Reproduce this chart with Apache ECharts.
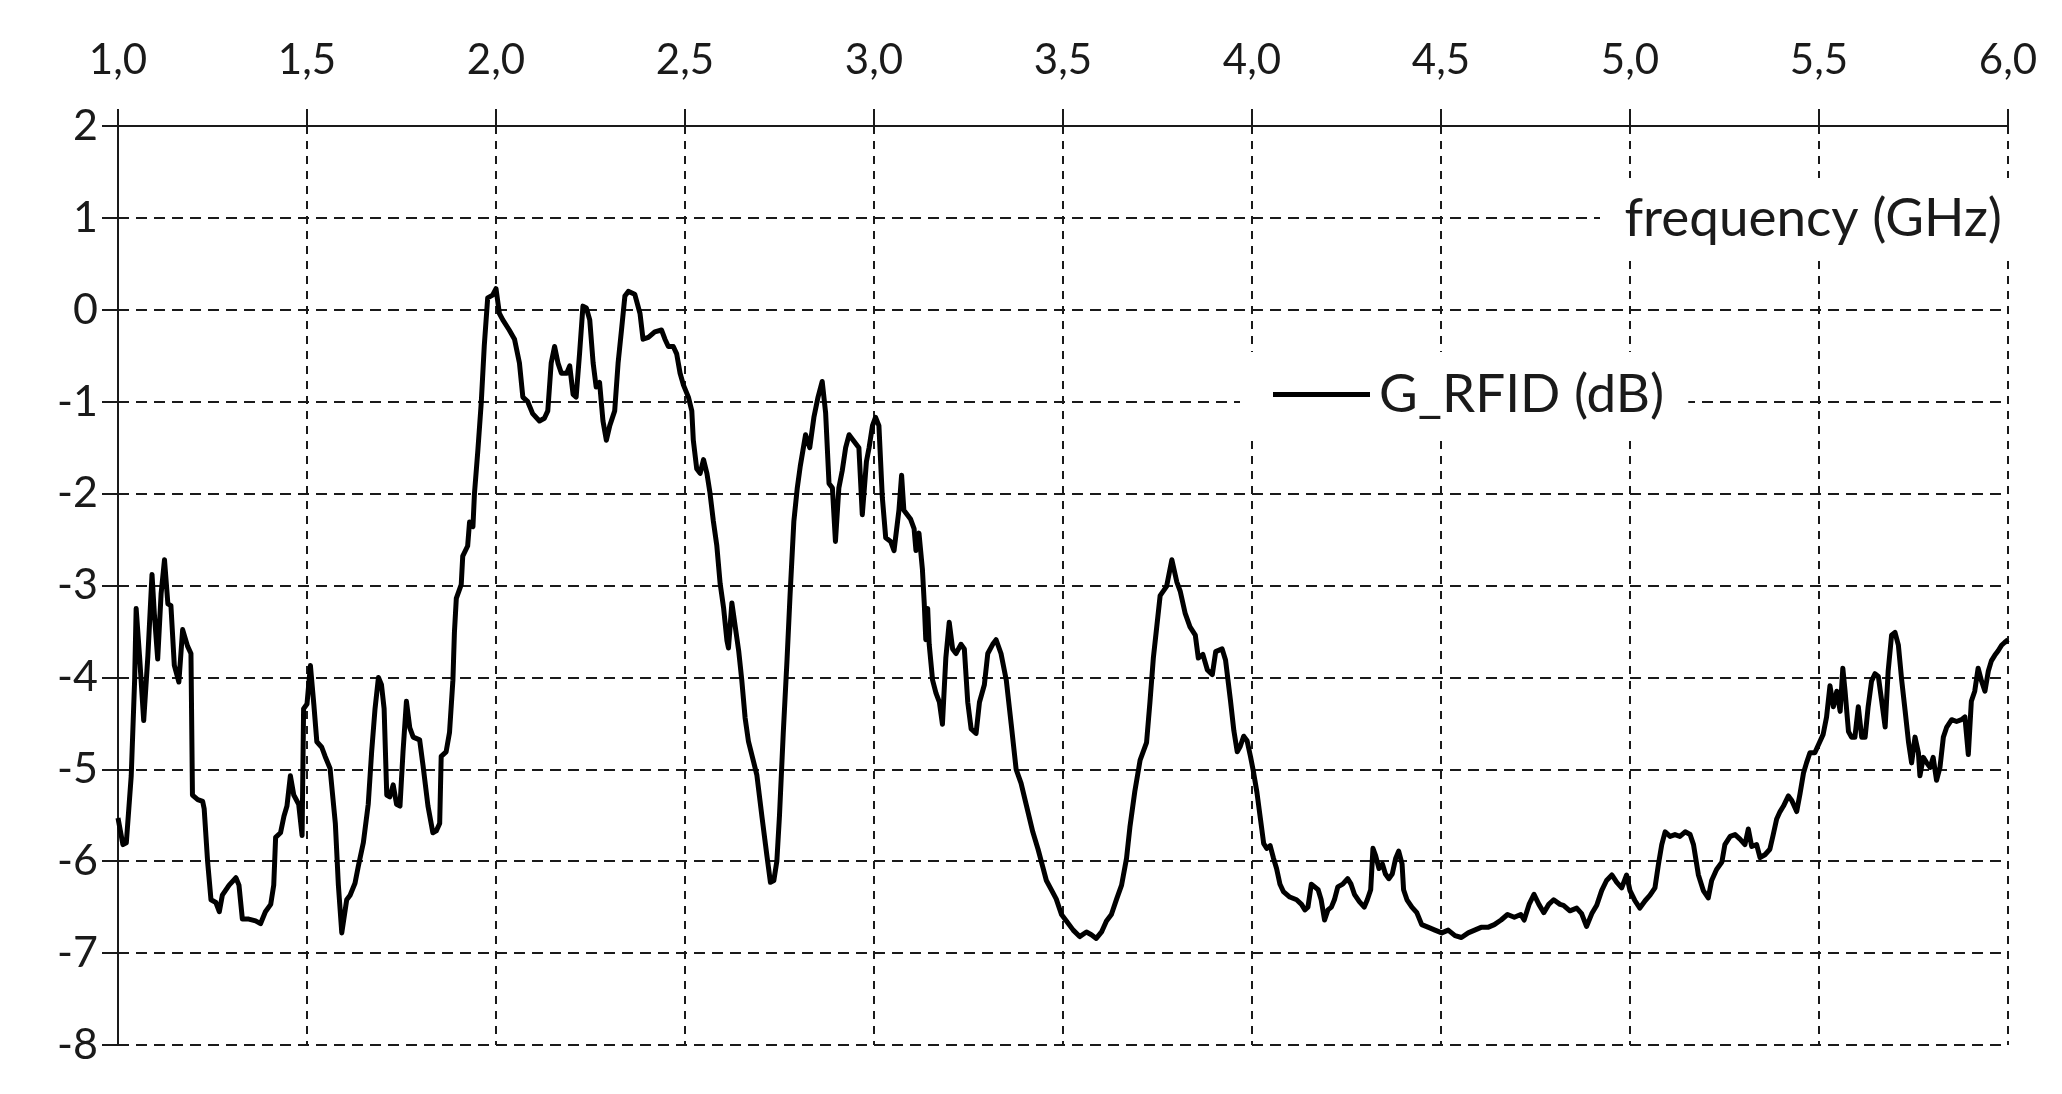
<!DOCTYPE html>
<html><head><meta charset="utf-8">
<script src="https://cdn.jsdelivr.net/npm/echarts@6/dist/echarts.min.js"></script>
<style>html,body{margin:0;padding:0;background:#fff}#c{width:2062px;height:1094px}</style>
</head><body><div id="c"></div>
<script>
// ---- tick labels ----
const xTickLabels = ['1,0','1,5','2,0','2,5','3,0','3,5','4,0','4,5','5,0','5,5','6,0'];
const yTickLabels = ['-8','-7','-6','-5','-4','-3','-2','-1','0','1','2'];
const seriesName = 'G_RFID (dB)';
const axisTitle = 'frequency (GHz)';

// ---- data: frequency (GHz) and gain (dB), by band ----
const freqBand1 = [
1.000,1.013,1.022,1.026,1.035,1.044,1.048,1.057,1.068,1.079,
1.090,1.096,1.105,1.114,1.123,1.132,1.140,1.149,1.161,1.171,
1.184,1.193,1.197,1.211,1.224,1.228,1.237,1.246,1.259,1.268,
1.276,1.294,1.312,1.320,1.329,1.346,1.364,1.377,1.390,1.404,
1.412,1.417,1.430,1.439,1.447,1.456,1.465,1.478,1.487,1.491,
1.500,1.509,1.518,1.526,1.539,1.548,1.561,1.575,1.583,1.592,
1.605,1.614,1.627,1.636,1.649,1.662,1.671,1.680,1.689,1.697,
1.704,1.711,1.719,1.728,1.737,1.746,1.754,1.763,1.772,1.781,
1.798,1.807,1.820,1.833,1.842,1.851,1.855,1.868,1.877,1.886,
1.890,1.895,1.908,1.912,1.925,1.930,1.939,1.943,1.952,1.961,
1.969,1.978,1.991,2.000];
const gainBand1 = [
-5.53,-5.82,-5.80,-5.80,-5.07,-4.03,-3.25,-3.77,-4.47,-3.77,
-2.88,-3.30,-3.80,-3.09,-2.72,-3.20,-3.22,-3.87,-4.05,-3.48,
-3.66,-3.74,-5.28,-5.33,-5.35,-5.43,-6.00,-6.42,-6.45,-6.55,
-6.37,-6.26,-6.18,-6.26,-6.63,-6.63,-6.65,-6.68,-6.55,-6.47,
-6.26,-5.74,-5.69,-5.51,-5.40,-5.07,-5.28,-5.38,-5.72,-4.34,
-4.29,-3.87,-4.29,-4.70,-4.76,-4.86,-4.99,-5.59,-6.26,-6.78,
-6.42,-6.37,-6.24,-6.05,-5.80,-5.38,-4.81,-4.34,-4.00,-4.08,
-4.34,-5.28,-5.30,-5.17,-5.38,-5.40,-4.81,-4.26,-4.55,-4.65,
-4.68,-4.96,-5.40,-5.69,-5.67,-5.59,-4.86,-4.81,-4.60,-4.03,
-3.51,-3.14,-2.99,-2.68,-2.57,-2.31,-2.36,-2.00,-1.53,-1.01,
-0.39,0.13,0.16,0.23];

const freqBand2 = [
2.009,2.018,2.035,2.049,2.062,2.071,2.084,2.097,2.115,2.128,
2.137,2.146,2.155,2.164,2.173,2.187,2.195,2.204,2.212,2.221,
2.230,2.239,2.248,2.257,2.265,2.274,2.283,2.292,2.301,2.314,
2.323,2.332,2.341,2.350,2.367,2.381,2.389,2.403,2.420,2.438,
2.447,2.456,2.469,2.478,2.487,2.496,2.509,2.518,2.522,2.531,
2.540,2.549,2.558,2.566,2.575,2.584,2.593,2.602,2.611,2.615,
2.624,2.633,2.642,2.650,2.659,2.668,2.681,2.690,2.704,2.717,
2.726,2.735,2.743,2.750,2.760,2.770,2.778,2.788,2.797,2.805,
2.819,2.830,2.841,2.852,2.863,2.872,2.881,2.890,2.898,2.907,
2.916,2.925,2.934,2.947,2.960,2.969,2.980,2.987,2.996];
const gainBand2 = [
-0.04,-0.11,-0.22,-0.32,-0.58,-0.95,-1.00,-1.13,-1.21,-1.18,
-1.10,-0.58,-0.40,-0.58,-0.69,-0.69,-0.61,-0.92,-0.95,-0.48,
0.04,0.02,-0.11,-0.58,-0.84,-0.79,-1.21,-1.42,-1.26,-1.10,
-0.58,-0.22,0.15,0.20,0.17,-0.04,-0.32,-0.30,-0.24,-0.22,
-0.32,-0.40,-0.40,-0.48,-0.69,-0.82,-0.95,-1.10,-1.42,-1.73,
-1.78,-1.63,-1.78,-1.99,-2.30,-2.56,-2.98,-3.24,-3.60,-3.68,
-3.19,-3.45,-3.71,-4.02,-4.44,-4.70,-4.91,-5.06,-5.53,-5.95,
-6.23,-6.21,-6.00,-5.50,-4.60,-3.80,-3.10,-2.30,-1.94,-1.70,
-1.36,-1.50,-1.17,-0.95,-0.78,-1.12,-1.89,-1.94,-2.52,-1.94,
-1.75,-1.50,-1.36,-1.43,-1.50,-2.23,-1.65,-1.50,-1.26];

const freqBand3 = [
3.004,3.013,3.022,3.031,3.044,3.053,3.066,3.073,3.079,3.088,
3.097,3.106,3.111,3.119,3.128,3.133,3.137,3.142,3.146,3.155,
3.164,3.173,3.181,3.190,3.199,3.208,3.217,3.230,3.239,3.248,
3.257,3.270,3.279,3.292,3.301,3.314,3.323,3.336,3.350,3.363,
3.376,3.389,3.403,3.420,3.434,3.447,3.456,3.469,3.482,3.496,
3.509,3.527,3.544,3.562,3.575,3.588,3.602,3.615,3.628,3.642,
3.655,3.668,3.677,3.690,3.704,3.721,3.730,3.739,3.748,3.757,
3.774,3.788,3.801,3.810,3.823,3.836,3.850,3.858,3.870,3.882,
3.895,3.904,3.921,3.930,3.943,3.952,3.961,3.969,3.978,3.987,
3.996];
const gainBand3 = [
-1.17,-1.26,-2.04,-2.48,-2.52,-2.62,-2.18,-1.80,-2.18,-2.23,
-2.28,-2.38,-2.62,-2.43,-2.82,-3.20,-3.59,-3.25,-3.64,-4.03,
-4.17,-4.27,-4.51,-3.79,-3.40,-3.69,-3.74,-3.64,-3.69,-4.27,
-4.56,-4.61,-4.27,-4.08,-3.74,-3.64,-3.59,-3.74,-4.03,-4.51,
-5.00,-5.15,-5.39,-5.68,-5.87,-6.07,-6.21,-6.31,-6.41,-6.58,
-6.65,-6.75,-6.82,-6.77,-6.80,-6.84,-6.77,-6.65,-6.58,-6.41,
-6.26,-5.97,-5.63,-5.24,-4.90,-4.71,-4.27,-3.79,-3.45,-3.11,
-3.01,-2.72,-2.96,-3.06,-3.30,-3.45,-3.54,-3.79,-3.75,-3.92,
-3.97,-3.72,-3.69,-3.81,-4.25,-4.58,-4.81,-4.75,-4.64,-4.69,
-4.86];

const freqBand4 = [
4.004,4.013,4.022,4.031,4.039,4.048,4.057,4.065,4.074,4.083,
4.100,4.118,4.131,4.140,4.148,4.157,4.166,4.175,4.183,4.192,
4.201,4.210,4.218,4.227,4.240,4.253,4.262,4.271,4.284,4.297,
4.305,4.314,4.320,4.327,4.336,4.345,4.353,4.362,4.371,4.380,
4.388,4.397,4.401,4.410,4.423,4.436,4.449,4.467,4.484,4.502,
4.519,4.537,4.554,4.572,4.589,4.606,4.624,4.641,4.659,4.676,
4.694,4.711,4.720,4.733,4.746,4.759,4.772,4.785,4.798,4.815,
4.824,4.841,4.859,4.872,4.885,4.899,4.912,4.925,4.938,4.952,
4.965,4.978,4.991];
const gainBand4 = [
-5.03,-5.25,-5.53,-5.81,-5.86,-5.83,-5.97,-6.08,-6.25,-6.33,
-6.39,-6.42,-6.47,-6.53,-6.50,-6.25,-6.28,-6.31,-6.42,-6.64,
-6.53,-6.50,-6.42,-6.28,-6.25,-6.19,-6.25,-6.36,-6.44,-6.50,
-6.42,-6.31,-5.86,-5.94,-6.08,-6.03,-6.14,-6.19,-6.14,-5.97,
-5.89,-6.03,-6.31,-6.42,-6.50,-6.56,-6.69,-6.72,-6.75,-6.78,
-6.75,-6.81,-6.83,-6.78,-6.75,-6.72,-6.72,-6.69,-6.64,-6.58,
-6.61,-6.58,-6.64,-6.47,-6.36,-6.47,-6.56,-6.47,-6.42,-6.47,
-6.48,-6.54,-6.51,-6.57,-6.71,-6.57,-6.48,-6.32,-6.21,-6.15,
-6.23,-6.29,-6.15];

const freqBand5 = [
5.000,5.013,5.026,5.040,5.053,5.066,5.075,5.084,5.093,5.106,
5.119,5.132,5.146,5.159,5.168,5.181,5.194,5.207,5.216,5.229,
5.243,5.251,5.265,5.278,5.291,5.304,5.313,5.322,5.335,5.344,
5.357,5.370,5.379,5.388,5.397,5.406,5.419,5.428,5.441,5.450,
5.459,5.467,5.476,5.489,5.501,5.511,5.520,5.529,5.538,5.547,
5.556,5.563,5.569,5.578,5.586,5.595,5.604,5.613,5.622,5.630,
5.639,5.648,5.657,5.666,5.675,5.683,5.692,5.701,5.710,5.719,
5.728,5.737,5.745,5.754,5.763,5.767,5.776,5.785,5.794,5.802,
5.811,5.820,5.829,5.838,5.851,5.864,5.877,5.886,5.895,5.903,
5.912,5.921,5.930,5.939,5.948,5.956,5.965,5.974,5.983,5.991,
6.000];
const gainBand5 = [
-6.32,-6.43,-6.51,-6.43,-6.37,-6.29,-6.04,-5.82,-5.68,-5.73,
-5.71,-5.73,-5.68,-5.71,-5.82,-6.15,-6.32,-6.40,-6.21,-6.09,
-6.01,-5.82,-5.73,-5.71,-5.76,-5.82,-5.65,-5.84,-5.82,-5.96,
-5.93,-5.87,-5.71,-5.54,-5.46,-5.40,-5.29,-5.34,-5.46,-5.26,
-5.04,-4.93,-4.82,-4.82,-4.71,-4.62,-4.43,-4.09,-4.32,-4.15,
-4.37,-3.90,-4.15,-4.59,-4.65,-4.65,-4.32,-4.65,-4.65,-4.32,
-4.04,-3.96,-3.99,-4.26,-4.54,-3.93,-3.54,-3.51,-3.65,-4.04,
-4.37,-4.71,-4.93,-4.65,-4.82,-5.07,-4.87,-4.93,-4.98,-4.87,
-5.12,-4.98,-4.65,-4.54,-4.46,-4.48,-4.46,-4.43,-4.84,-4.26,
-4.15,-3.90,-4.04,-4.15,-3.93,-3.82,-3.76,-3.71,-3.65,-3.62,
-3.59];

const freqGHz = [].concat(freqBand1, freqBand2, freqBand3, freqBand4, freqBand5);
const gainDb  = [].concat(gainBand1, gainBand2, gainBand3, gainBand4, gainBand5);
const points = freqGHz.map((f, i) => [f, gainDb[i]]);

const FONT = 'Lato';
const INK = '#1a1a1a';
const chart = echarts.init(document.getElementById('c'), null, {renderer: 'canvas'});
chart.setOption({
  animation: false,
  backgroundColor: '#ffffff',
  textStyle: {fontFamily: FONT},
  grid: {left: 118, right: 54, top: 126, bottom: 49, containLabel: false, outerBoundsMode: 'none'},
  xAxis: {
    type: 'value', position: 'top', min: 1, max: 6, interval: 0.5,
    axisLine: {show: true, onZero: false, lineStyle: {color: INK, width: 2}},
    axisTick: {show: true, length: 17, lineStyle: {color: INK, width: 2}},
    axisLabel: {margin: 45, fontSize: 42, color: INK, fontFamily: FONT,
      formatter: v => xTickLabels[Math.round((v - 1) / 0.5)]},
    splitLine: {show: true, lineStyle: {type: [8, 7], color: INK, width: 2}}
  },
  yAxis: {
    type: 'value', min: -8, max: 2, interval: 1,
    axisLine: {show: true, onZero: false, lineStyle: {color: INK, width: 2}},
    axisTick: {show: true, length: 16, lineStyle: {color: INK, width: 2}},
    axisLabel: {margin: 20, fontSize: 43, color: INK, fontFamily: FONT,
      formatter: v => yTickLabels[Math.round(v + 8)]},
    splitLine: {show: true, lineStyle: {type: [11, 7], color: INK, width: 2}}
  },
  legend: {
    left: 1240, top: 352, orient: 'horizontal',
    backgroundColor: '#ffffff',
    padding: [16, 24, 16, 33],
    icon: 'rect', itemWidth: 97, itemHeight: 5, itemGap: 0,
    textStyle: {fontSize: 53, color: INK, fontFamily: FONT, padding: [0, 0, 0, 4]},
    data: [seriesName]
  },
  graphic: [
    {type: 'rect', left: 1600, top: 178, z: 10, shape: {width: 430, height: 78}, style: {fill: '#ffffff'}},
    {type: 'text', x: 2002, y: 219, z: 11,
      style: {text: axisTitle, fontSize: 53, fontFamily: FONT, fill: INK, align: 'right', verticalAlign: 'middle'}}
  ],
  series: [{
    type: 'line', name: seriesName, data: points,
    showSymbol: false, symbol: 'none', smooth: false,
    lineStyle: {color: '#000000', width: 5, join: 'round'},
    itemStyle: {color: '#000000'}
  }]
});
</script>
</body></html>
